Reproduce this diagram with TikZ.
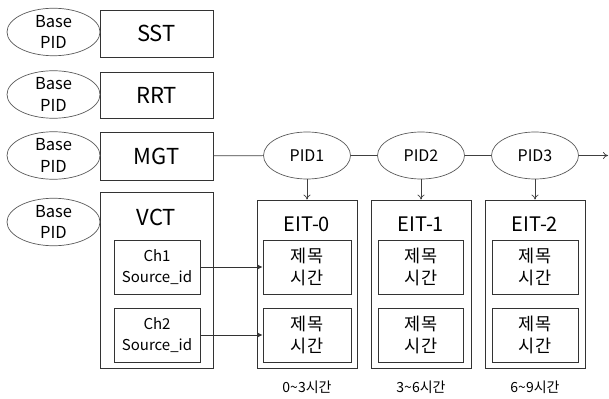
\documentclass[tikz,border=0pt]{standalone}
\usepackage{fontspec}
\setmainfont{Noto Sans CJK KR}
\usetikzlibrary{shapes.geometric,arrows.meta,positioning}

\tikzset{
  tbl/.style={draw=black!80, line width=0.8pt, minimum width=113pt, inner sep=0pt},
  pidell/.style={draw=black!65, ellipse, line width=0.7pt, inner sep=0pt, align=center},
  inbox/.style={draw=black!80, line width=0.8pt, inner sep=0pt, minimum height=54pt, align=center},
  eitbox/.style={draw=black!80, line width=0.8pt, inner sep=0pt, minimum width=100pt, minimum height=168pt},
}

\begin{document}
\begin{tikzpicture}[x=1pt, y=-1pt]
  \useasboundingbox (0,0) rectangle (609,398);

  % 왼쪽 표
  \node[tbl, minimum height=47pt, font=\fontsize{22}{22}\selectfont] (sst) at (156.5,33.5) {SST};
  \node[tbl, minimum height=46pt, font=\fontsize{22}{22}\selectfont] (rrt) at (156.5,95) {RRT};
  \node[tbl, minimum height=48pt, font=\fontsize{22}{22}\selectfont] (mgt) at (156.5,156) {MGT};
  \node[tbl, minimum height=176pt] (vct) at (156.5,280) {};
  \node[font=\fontsize{22}{22}\selectfont] (vcttitle) at (156.5,217) {VCT};

  % Base PID
  \foreach \y/\n in {32/sst, 94.5/rrt, 155.5/mgt, 222/vct}
    \node[pidell, minimum width=93pt, minimum height=46pt,
          font=\fontsize{16.5}{21.5}\selectfont] (base-\n) at (53.5,\y) {Base\\PID};

  % 채널
  \node[inbox, minimum width=86pt, font=\fontsize{15}{20.5}\selectfont] (ch1) at (157,267) {Ch1\\Source\_id};
  \node[inbox, minimum width=86pt, font=\fontsize{15}{20.5}\selectfont] (ch2) at (157,335) {Ch2\\Source\_id};

  % EIT
  \foreach \i/\x/\w/\t in {0/307/88/0\textasciitilde 3시간, 1/421/85/3\textasciitilde 6시간, 2/535/86/6\textasciitilde 9시간} {
    \node[pidell, minimum width=87pt, minimum height=47pt,
          font=\fontsize{16}{16}\selectfont] (pid\i) at (\x,155.5) {PID\the\numexpr\i+1\relax};
    \node[eitbox] (eit\i) at (\x,284) {};
    \node[font=\fontsize{20}{20}\selectfont] (eittitle\i) at (\x,224) {EIT-\i};
    \node[inbox, minimum width=\w pt, font=\fontsize{17.5}{22}\selectfont] (ev\i a) at (\x,267) {제목\\시간};
    \node[inbox, minimum width=\w pt, font=\fontsize{17.5}{22}\selectfont] (ev\i b) at (\x,335) {제목\\시간};
    \node[font=\fontsize{14}{14}\selectfont] (hr\i) at (\x,387) {\t};
    \draw[-{To[length=5pt,width=7pt]}, black!75, line width=0.7pt] (pid\i) -- (eit\i);
  }

  % 연결선
  \coordinate (tail) at (608,155.5);
  \draw[black!75, line width=0.7pt] (mgt) -- (pid0);
  \draw[black!75, line width=0.7pt] (pid0) -- (pid1);
  \draw[black!75, line width=0.7pt] (pid1) -- (pid2);
  \draw[-{To[length=5pt,width=7pt]}, black!75, line width=0.7pt] (pid2) -- (tail);
  \draw[-{Latex[length=5pt,width=5pt]}, black!80, line width=0.7pt] (ch1) -- (ev0a);
  \draw[-{Latex[length=5pt,width=5pt]}, black!80, line width=0.7pt] (ch2) -- (ev0b);
\end{tikzpicture}
\end{document}
